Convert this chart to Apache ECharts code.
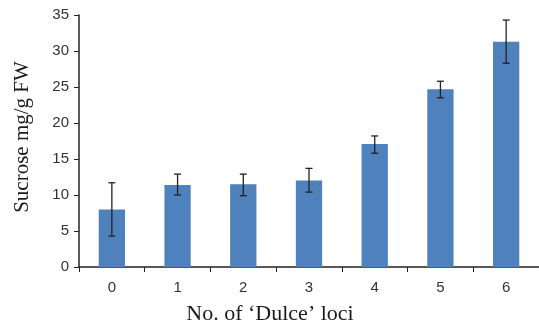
<!DOCTYPE html>
<html>
<head>
<meta charset="utf-8">
<script src="https://cdn.jsdelivr.net/npm/echarts@6/dist/echarts.min.js"></script>
<style>
  html, body { margin: 0; padding: 0; background: #fff; }
  #chart { width: 539px; height: 330px; }
</style>
</head>
<body>
<div id="chart"></div>
<script>
const categories = ['0', '1', '2', '3', '4', '5', '6'];
const sucrose = [8.0, 11.4, 11.5, 12.0, 17.1, 24.7, 31.3];
const errLow = [4.3, 10.0, 9.9, 10.4, 15.8, 23.5, 28.3];
const errHigh = [11.7, 12.9, 12.9, 13.7, 18.2, 25.8, 34.3];

const myChart = echarts.init(document.getElementById('chart'));

const errorData = categories.map((c, i) => [i, errLow[i], errHigh[i]]);

const option = {
    animation: false,
    grid: {
        left: 79,
        right: -6,
        top: 15,
        bottom: 63
    },
    xAxis: {
        type: 'category',
        data: categories,
        name: 'No. of \u2018Dulce\u2019 loci',
        nameLocation: 'middle',
        nameGap: 36,
        nameTextStyle: {
            fontFamily: 'Liberation Serif',
            fontSize: 22,
            color: '#1a1a1a',
            padding: [0, 0, 0, -78]
        },
        axisLine: { lineStyle: { color: '#222', width: 1.5 } },
        axisTick: { show: true, length: 5, lineStyle: { color: '#222' } },
        axisLabel: {
            fontFamily: 'Liberation Sans',
            fontSize: 15,
            color: '#333',
            margin: 13
        }
    },
    yAxis: {
        type: 'value',
        min: 0,
        max: 35,
        interval: 5,
        name: 'Sucrose mg/g FW',
        nameLocation: 'middle',
        nameGap: 46,
        nameTextStyle: {
            fontFamily: 'Liberation Serif',
            fontSize: 21,
            color: '#1a1a1a',
            padding: [0, 0, 0, 8]
        },
        axisLine: { show: true, lineStyle: { color: '#222', width: 1.5 } },
        axisTick: { show: true, length: 5, inside: false, lineStyle: { color: '#222' } },
        axisLabel: {
            fontFamily: 'Liberation Sans',
            fontSize: 15,
            color: '#333',
            margin: 10
        },
        splitLine: { show: false }
    },
    series: [
        {
            type: 'bar',
            data: sucrose,
            barWidth: '40%',
            itemStyle: { color: '#4F81BD' }
        },
        {
            type: 'custom',
            data: errorData,
            z: 10,
            renderItem: function (params, api) {
                const x = api.value(0);
                const lo = api.coord([x, api.value(1)]);
                const hi = api.coord([x, api.value(2)]);
                const hw = 3.5;
                const style = { stroke: '#222', lineWidth: 1.3 };
                return {
                    type: 'group',
                    children: [
                        { type: 'line', shape: { x1: lo[0], y1: lo[1], x2: hi[0], y2: hi[1] }, style: style },
                        { type: 'line', shape: { x1: lo[0] - hw, y1: lo[1], x2: lo[0] + hw, y2: lo[1] }, style: style },
                        { type: 'line', shape: { x1: hi[0] - hw, y1: hi[1], x2: hi[0] + hw, y2: hi[1] }, style: style }
                    ]
                };
            }
        }
    ]
};

myChart.setOption(option);
</script>
</body>
</html>
